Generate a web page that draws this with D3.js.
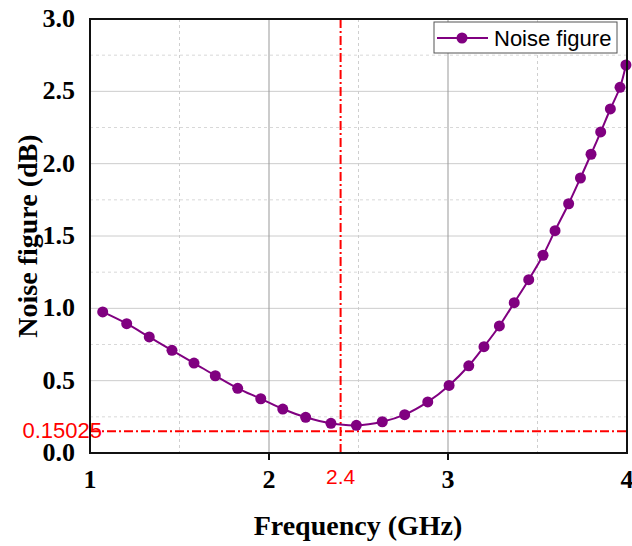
<!DOCTYPE html>
<html>
<head>
<meta charset="utf-8">
<script src="https://cdn.jsdelivr.net/npm/d3@7"></script>
<style>
    body { margin: 0; background: #fff; }
    svg { display: block; }
</style>
</head>
<body>
<svg id="chart" width="632" height="546"></svg>
<script>
// frequency (GHz) and noise figure (dB)
const freq = [1.071, 1.205, 1.331, 1.458, 1.581, 1.700, 1.825, 1.954, 2.077, 2.205,
    2.346, 2.488, 2.633, 2.758, 2.887, 3.006, 3.116, 3.201, 3.287, 3.370,
    3.451, 3.531, 3.598, 3.674, 3.740, 3.799, 3.853, 3.907, 3.961, 3.994];
const noiseFig = [0.975, 0.894, 0.802, 0.710, 0.622, 0.534, 0.447, 0.375, 0.304, 0.247,
    0.205, 0.191, 0.216, 0.265, 0.353, 0.467, 0.603, 0.735, 0.878, 1.039,
    1.198, 1.367, 1.537, 1.723, 1.901, 2.065, 2.219, 2.378, 2.528, 2.682];
const xTicks = [1, 2, 3, 4];
const yTicks = [0, 0.5, 1.0, 1.5, 2.0, 2.5, 3.0];
const markX = 2.4;
const markY = 0.15025;

const pL = 90, pR = 627, pT = 19, pB = 453;
const purple = '#800080';

const svg = d3.select('#chart');
const x = d3.scaleLinear().domain([1, 4]).range([pL, pR]);
const y = d3.scaleLinear().domain([0, 3]).range([pB, pT]);

const grid = svg.append('g');
// minor grid (dashed)
grid.selectAll('line.ym')
    .data(d3.range(0.25, 3, 0.5))
    .enter()
    .append('line')
    .attr('x1', pL).attr('x2', pR)
    .attr('y1', (d) => y(d)).attr('y2', (d) => y(d))
    .attr('stroke', '#d8d8d8')
    .attr('stroke-dasharray', '3,3');
grid.selectAll('line.xm')
    .data([1.5, 2.5, 3.5])
    .enter()
    .append('line')
    .attr('y1', pT).attr('y2', pB)
    .attr('x1', (d) => x(d)).attr('x2', (d) => x(d))
    .attr('stroke', '#cfcfcf')
    .attr('stroke-dasharray', '3,3');
// major grid
grid.selectAll('line.yM')
    .data(yTicks.slice(1, -1))
    .enter()
    .append('line')
    .attr('x1', pL).attr('x2', pR)
    .attr('y1', (d) => y(d)).attr('y2', (d) => y(d))
    .attr('stroke', '#cccccc');
grid.selectAll('line.xM')
    .data([2, 3])
    .enter()
    .append('line')
    .attr('y1', pT).attr('y2', pB)
    .attr('x1', (d) => x(d)).attr('x2', (d) => x(d))
    .attr('stroke', '#999999');

// red reference lines
svg.append('line')
    .attr('x1', x(markX)).attr('x2', x(markX))
    .attr('y1', pT).attr('y2', pB)
    .attr('stroke', '#ff0000')
    .attr('stroke-width', 2)
    .attr('stroke-dasharray', '9,3,2,3');
svg.append('line')
    .attr('x1', pL).attr('x2', pR)
    .attr('y1', y(markY)).attr('y2', y(markY))
    .attr('stroke', '#ff0000')
    .attr('stroke-width', 2)
    .attr('stroke-dasharray', '9,3,2,3');

// curve + markers
const pts = freq.map((f, i) => [f, noiseFig[i]]);
svg.append('path')
    .datum(pts)
    .attr('fill', 'none')
    .attr('stroke', purple)
    .attr('stroke-width', 2)
    .attr('d', d3.line()
        .x((d) => x(d[0]))
        .y((d) => y(d[1]))
        .curve(d3.curveCatmullRom));
svg.append('g')
    .selectAll('circle')
    .data(pts)
    .enter()
    .append('circle')
    .attr('cx', (d) => x(d[0]))
    .attr('cy', (d) => y(d[1]))
    .attr('r', 5.5)
    .attr('fill', purple);

// frame
svg.append('rect')
    .attr('x', pL).attr('y', pT)
    .attr('width', pR - pL).attr('height', pB - pT)
    .attr('fill', 'none')
    .attr('stroke', '#111')
    .attr('stroke-width', 2);

// x ticks outside
svg.append('g')
    .selectAll('line')
    .data([2, 3])
    .enter()
    .append('line')
    .attr('x1', (d) => x(d)).attr('x2', (d) => x(d))
    .attr('y1', pB).attr('y2', pB + 7)
    .attr('stroke', '#111')
    .attr('stroke-width', 2);

const serif = '"Liberation Serif", "Times New Roman", serif';
const sans = '"Liberation Sans", Arial, sans-serif';

svg.append('g')
    .selectAll('text')
    .data(xTicks)
    .enter()
    .append('text')
    .attr('x', (d) => x(d))
    .attr('y', 488)
    .attr('text-anchor', 'middle')
    .style('font', `bold 26px ${serif}`)
    .text((d) => d);

svg.append('g')
    .selectAll('text')
    .data(yTicks)
    .enter()
    .append('text')
    .attr('x', 75)
    .attr('y', (d) => y(d) + 8)
    .attr('text-anchor', 'end')
    .style('font', `bold 26px ${serif}`)
    .text((d) => d.toFixed(1));

// red labels
svg.append('text')
    .attr('x', x(markX))
    .attr('y', 484)
    .attr('text-anchor', 'middle')
    .attr('fill', '#ff0000')
    .style('font', `21px ${sans}`)
    .text(markX);
svg.append('text')
    .attr('x', 102)
    .attr('y', 438)
    .attr('text-anchor', 'end')
    .attr('fill', '#ff0000')
    .style('font', `22px ${sans}`)
    .text(markY);

// axis titles
svg.append('text')
    .attr('x', 358)
    .attr('y', 535)
    .attr('text-anchor', 'middle')
    .style('font', `bold 28px ${serif}`)
    .text('Frequency (GHz)');
svg.append('text')
    .attr('transform', 'translate(37,236) rotate(-90)')
    .attr('text-anchor', 'middle')
    .style('font', `bold 28px ${serif}`)
    .text('Noise figure (dB)');

// legend
const lg = svg.append('g');
lg.append('rect')
    .attr('x', 434).attr('y', 22)
    .attr('width', 183).attr('height', 31)
    .attr('fill', '#fff')
    .attr('stroke', '#555');
lg.append('line')
    .attr('x1', 437).attr('x2', 488)
    .attr('y1', 38).attr('y2', 38)
    .attr('stroke', purple)
    .attr('stroke-width', 2);
lg.append('circle')
    .attr('cx', 462).attr('cy', 38)
    .attr('r', 5.5)
    .attr('fill', purple);
lg.append('text')
    .attr('x', 494).attr('y', 46)
    .style('font', `22px ${sans}`)
    .text('Noise figure');
</script>
</body>
</html>
